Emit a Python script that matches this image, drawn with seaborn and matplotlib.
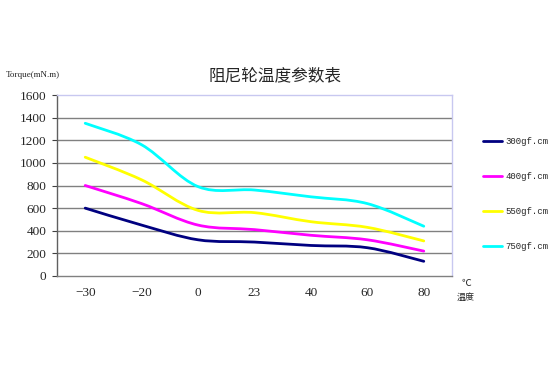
import numpy as np
import pandas as pd
import seaborn as sns
import matplotlib
matplotlib.use("Agg")
import matplotlib.pyplot as plt
from matplotlib.path import Path
from matplotlib.patches import PathPatch
from matplotlib.lines import Line2D

temps = ["\u221230", "\u221220", "0", "23", "40", "60", "80"]
series_names = ["300gf.cm", "400gf.cm", "550gf.cm", "750gf.cm"]
v300 = [600, 450, 320, 300, 270, 250, 130]
v400 = [800, 640, 450, 410, 360, 320, 220]
v550 = [1050, 850, 580, 560, 480, 430, 310]
v750 = [1350, 1160, 790, 760, 700, 640, 440]
colors = ["#000080", "#FF00FF", "#FFFF00", "#00FFFF"]
yticks = [0, 200, 400, 600, 800, 1000, 1200, 1400, 1600]

sns.set_theme(style="white")
plt.rcParams['font.family'] = ['Liberation Serif', 'Noto Sans CJK SC', 'DejaVu Sans']

rows = []
for name, vals in zip(series_names, [v300, v400, v550, v750]):
    for i, (t, v) in enumerate(zip(temps, vals)):
        rows.append({"idx": i, "temp": t, "series": name, "torque": v})
df = pd.DataFrame(rows)

fig = plt.figure(figsize=(5.52, 3.73), dpi=100)
ax = fig.add_axes([57/552, 1-276/373, (452-57)/552, (276-95)/373])

sns.lineplot(data=df, x="idx", y="torque", hue="series", palette=colors,
             ax=ax, legend=False, linewidth=0)
for ln in ax.lines:
    ln.set_visible(False)

def smooth_path(xs, ys):
    pts = np.column_stack([xs, ys]).astype(float)
    n = len(pts)
    verts = [pts[0]]
    codes = [Path.MOVETO]
    for i in range(n - 1):
        p0 = pts[i - 1] if i > 0 else pts[i]
        p1 = pts[i]
        p2 = pts[i + 1]
        p3 = pts[i + 2] if i + 2 < n else pts[i + 1]
        c1 = p1 + (p2 - p0) / 6.0
        c2 = p2 - (p3 - p1) / 6.0
        verts += [c1, c2, p2]
        codes += [Path.CURVE4] * 3
    return Path(verts, codes)

for name, color in zip(series_names, colors):
    sub = df[df.series == name]
    path = smooth_path(sub.idx.values, sub.torque.values)
    ax.add_patch(PathPatch(path, facecolor="none", edgecolor=color,
                           linewidth=2.0, capstyle="round", joinstyle="round", zorder=3))

ax.set_xlim(-0.5, len(temps) - 0.5)
ax.set_ylim(0, 1600)
ax.set_yticks(yticks)
ax.set_yticklabels([str(v) for v in yticks], fontsize=9.5)
ax.set_xticks(range(len(temps)))
ax.set_xticklabels(temps, fontsize=9.5)
ax.tick_params(axis="y", which="both", left=True, length=3.5, width=0.8, color="#404040", pad=4)
ax.tick_params(axis="x", which="both", bottom=False, length=0, pad=8)
ax.set_xlabel("")
ax.set_ylabel("")

for y in yticks[1:-1]:
    ax.axhline(y, color="#808080", linewidth=1.0, zorder=1)

ax.spines["left"].set_color("#606060")
ax.spines["bottom"].set_color("#808080")
ax.spines["top"].set_color("#C8C8F0")
ax.spines["right"].set_color("#C8C8F0")
for s in ax.spines.values():
    s.set_linewidth(1.0)

fig.text(275/552, 1-76/373, "阻尼轮温度参数表", ha="center", va="center",
         fontsize=12, family=["Noto Sans CJK SC", "DejaVu Sans"])
fig.text(6/552, 1-75/373, "Torque(mN.m)", ha="left", va="center", fontsize=6.5)

handles = [Line2D([0], [0], color=c, linewidth=2.0) for c in colors]
leg = fig.legend(handles, series_names, loc="center left",
                 bbox_to_anchor=(483/552, 1-194/373), frameon=False,
                 borderaxespad=0, borderpad=0,
                 prop={"family": "Liberation Mono", "size": 6.5},
                 handlelength=2.1, handletextpad=0.4, labelspacing=2.9)

fig.text(466/552, 1-283/373, "℃", ha="center", va="center", fontsize=7,
         family=["Noto Sans CJK SC", "DejaVu Sans"])
fig.text(466/552, 1-297/373, "温度", ha="center", va="center", fontsize=6.5,
         family=["Noto Sans CJK SC", "DejaVu Sans"])

fig.savefig("out.png", dpi=100)
